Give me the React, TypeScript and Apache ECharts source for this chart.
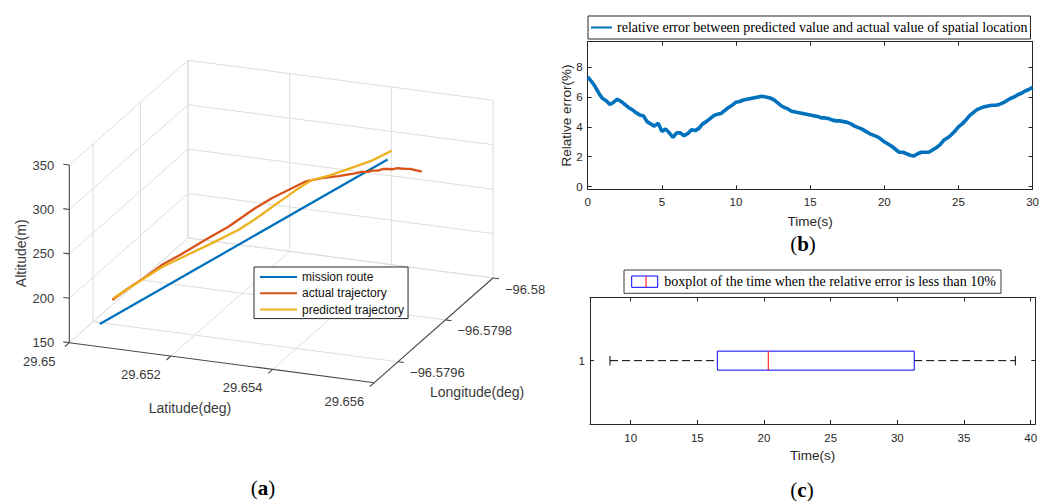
import React, { useEffect, useRef } from "react";
import * as echarts from "echarts";

const SANS = "'Liberation Sans', Arial, Helvetica, sans-serif";
const SERIF = "'Liberation Serif', 'Times New Roman', serif";
const AX = "#262626";

// ---------------- (a) 3-D trajectory data ----------------
const latTicks = [29.65, 29.652, 29.654, 29.656];
const lonTicks = [-96.58, -96.5798, -96.5796];
const altTicks = [150, 200, 250, 300, 350];
const latRange = [29.65, 29.656];
const lonRange = [-96.58, -96.5795];
const altRange = [150, 350];

const trajNames = ["mission route", "actual trajectory", "predicted trajectory"];
const trajColors = ["#0072BD", "#D95319", "#EDB120"];

const routeLat = [29.6506, 29.655];
const routeLon = [-96.5795, -96.57977];
const routeAlt = [175.5, 330];

const actualLat = [29.65079, 29.651036, 29.65129, 29.651546, 29.651852, 29.652208, 29.652564, 29.652972, 29.653227, 29.653481, 29.653736, 29.653991, 29.654245, 29.6545, 29.6546, 29.6547, 29.654756, 29.65485, 29.65493, 29.655009, 29.65508, 29.65515, 29.655264, 29.65534, 29.65542, 29.65552];
const actualLon = [-96.579512, -96.579527, -96.579542, -96.579558, -96.579577, -96.579599, -96.579621, -96.579646, -96.579662, -96.579677, -96.579693, -96.579709, -96.579724, -96.57974, -96.579746, -96.579752, -96.579756, -96.579762, -96.579767, -96.579771, -96.579776, -96.57978, -96.579787, -96.579792, -96.579797, -96.579803];
const actualAlt = [201.2, 212.7, 223.3, 235.3, 245.6, 258.9, 271.3, 289.2, 298.7, 306.2, 313.8, 315.8, 316.6, 317.9, 318.9, 318.1, 319.0, 318.4, 319.6, 319.2, 318.3, 319.0, 317.4, 316.8, 314.9, 312.6];

const predLat = [29.650806, 29.65124, 29.651546, 29.651902, 29.65231, 29.652717, 29.652972, 29.653278, 29.653583, 29.653838, 29.654092, 29.6545, 29.654756, 29.655061];
const predLon = [-96.579513, -96.579539, -96.579558, -96.57958, -96.579605, -96.57963, -96.579646, -96.579665, -96.579683, -96.579699, -96.579715, -96.57974, -96.579756, -96.579774];
const predAlt = [203.0, 220.6, 232.8, 243.0, 254.4, 266.5, 276.8, 290.8, 304.7, 315.0, 317.7, 325.3, 330.3, 339.4];

// ---------------- (b) relative error data ----------------
const errName = "relative error between predicted value and actual value of spatial location";
const errStep = 0.25; // s
const errValues = [
  7.35, 7.05, 6.7, 6.25, 5.9, 5.75, 5.5, 5.65, 5.85, 5.7,
  5.5, 5.3, 5.15, 4.95, 4.8, 4.75, 4.35, 4.2, 4.05, 4.25,
  3.7, 3.85, 3.6, 3.3, 3.6, 3.6, 3.4, 3.55, 3.8, 3.75,
  3.9, 4.2, 4.35, 4.55, 4.75, 4.85, 4.9, 5.1, 5.3, 5.45,
  5.65, 5.7, 5.8, 5.85, 5.9, 5.95, 6.0, 6.05, 6.0, 5.95,
  5.85, 5.65, 5.45, 5.3, 5.2, 5.05, 5.0, 4.95, 4.9, 4.85,
  4.8, 4.75, 4.7, 4.6, 4.6, 4.55, 4.45, 4.4, 4.4, 4.35,
  4.3, 4.2, 4.05, 3.95, 3.85, 3.7, 3.55, 3.45, 3.35, 3.2,
  3.0, 2.85, 2.7, 2.5, 2.3, 2.3, 2.2, 2.1, 2.05, 2.2,
  2.3, 2.3, 2.3, 2.45, 2.6, 2.8, 3.1, 3.25, 3.45, 3.7,
  4.0, 4.2, 4.45, 4.75, 4.95, 5.15, 5.25, 5.35, 5.4, 5.45,
  5.45, 5.5, 5.6, 5.75, 5.9, 6.0, 6.15, 6.25, 6.4, 6.5, 6.65,
];
const errXTicks = [0, 5, 10, 15, 20, 25, 30];
const errYTicks = [0, 2, 4, 6, 8];

// ---------------- (c) boxplot data ----------------
const boxLegend = "boxplot of the time when the relative error is less than 10%";
const boxCategory = 1;
const boxStats = [8.45, 16.5, 20.32, 31.27, 38.85]; // min, q1, median, q3, max
const boxXTicks = [10, 15, 20, 25, 30, 35, 40];

// ---------------- 3-D projection (layout) ----------------
const O = [69.3, 342.7];
const LAT_V = [305, 40];
const LON_V = [118.7, -104.7];
const ALT_V = [0, -177.7];

function project(lat: number, lon: number, alt: number): number[] {
  const u = (lat - latRange[0]) / (latRange[1] - latRange[0]);
  const g = (lonRange[1] - lon) / (lonRange[1] - lonRange[0]);
  const h = (alt - altRange[0]) / (altRange[1] - altRange[0]);
  return [
    O[0] + u * LAT_V[0] + g * LON_V[0] + h * ALT_V[0],
    O[1] + u * LAT_V[1] + g * LON_V[1] + h * ALT_V[1],
  ];
}

function traj(lat: number[], lon: number[], alt: number[]) {
  return lat.map((v, i) => project(v, lon[i], alt[i]));
}

function fmtLon(v: number) {
  return "\u2212" + String(Math.abs(v));
}

function buildOption() {
  const [la0, la1] = latRange;
  const [lo0, lo1] = lonRange;
  const [a0, a1] = altRange;

  const grid3d: number[][] = [];
  const pushSeg = (p: number[], q: number[]) => grid3d.push([p[0], p[1], q[0], q[1]]);
  latTicks.forEach((lat) => pushSeg(project(lat, lo1, a0), project(lat, lo0, a0)));
  lonTicks.forEach((lon) => pushSeg(project(la0, lon, a0), project(la1, lon, a0)));
  latTicks.forEach((lat) => pushSeg(project(lat, lo0, a0), project(lat, lo0, a1)));
  altTicks.forEach((alt) => pushSeg(project(la0, lo0, alt), project(la1, lo0, alt)));
  lonTicks.forEach((lon) => pushSeg(project(la0, lon, a0), project(la0, lon, a1)));
  altTicks.forEach((alt) => pushSeg(project(la0, lo1, alt), project(la0, lo0, alt)));

  const axes3d: number[][] = [];
  const pushAx = (p: number[], q: number[]) => axes3d.push([p[0], p[1], q[0], q[1]]);
  pushAx(project(la0, lo1, a0), project(la0, lo1, a1));
  pushAx(project(la0, lo1, a0), project(la1, lo1, a0));
  pushAx(project(la1, lo1, a0), project(la1, lo0, a0));

  const ticks3d: number[][] = [];
  altTicks.forEach((alt) => { const p = project(la0, lo1, alt); ticks3d.push([p[0], p[1], -6, -0.8]); });
  latTicks.forEach((lat) => { const p = project(lat, lo1, a0); ticks3d.push([p[0], p[1], -4.5, 4]); });
  lonTicks.forEach((lon) => { const p = project(la1, lon, a0); ticks3d.push([p[0], p[1], 6, 0.8]); });

  type Lbl = { p: number[]; dx: number; dy: number; text: string; align: string };
  const labels: Lbl[] = [];
  altTicks.forEach((alt) => labels.push({ p: project(la0, lo1, alt), dx: -15, dy: 0, text: String(alt), align: "right" }));
  latTicks.forEach((lat) => labels.push({ p: project(lat, lo1, a0), dx: -30, dy: 18.5, text: String(lat), align: "center" }));
  lonTicks.forEach((lon) => labels.push({ p: project(la1, lon, a0), dx: 12, dy: 11, text: fmtLon(lon), align: "left" }));

  const segSeries = (data: number[][], color: string, width: number) => ({
    type: "custom",
    xAxisIndex: 0,
    yAxisIndex: 0,
    silent: true,
    data,
    encode: { x: [0, 2], y: [1, 3] },
    renderItem: (_p: any, api: any) => {
      const p1 = api.coord([api.value(0), api.value(1)]);
      const p2 = api.coord([api.value(2), api.value(3)]);
      return {
        type: "line",
        shape: { x1: p1[0], y1: p1[1], x2: p2[0], y2: p2[1] },
        style: { stroke: color, lineWidth: width },
      };
    },
  });

  const trajData = [
    traj(routeLat, routeLon, routeAlt),
    traj(actualLat, actualLon, actualAlt),
    traj(predLat, predLon, predAlt),
  ];

  const errData = errValues.map((v, i) => [i * errStep, v]);

  const mkAxis = (o: any) => ({
    type: "value",
    splitLine: { show: false },
    axisLine: { show: true, onZero: false, lineStyle: { color: AX, width: 1 } },
    nameMoveOverlap: false,
    ...o,
  });

  return {
    animation: false,
    backgroundColor: "#fff",
    grid: [
      { left: 0, top: 0, width: 1042, height: 501 },
      { left: 587.7, top: 41.7, width: 449, height: 147.6 },
      { left: 590, top: 297.3, width: 445.3, height: 126.7 },
    ],
    xAxis: [
      { type: "value", gridIndex: 0, min: 0, max: 1042, show: false },
      mkAxis({
        gridIndex: 1, min: 0, max: 30, interval: 5, position: "bottom",
        axisTick: { show: true, inside: true, length: 4, lineStyle: { color: AX }, customValues: errXTicks },
        axisLabel: { show: true, customValues: errXTicks, fontFamily: SANS, fontSize: 11.5, color: AX, margin: 7 },
        name: "Time(s)", nameLocation: "middle", nameGap: 25,
        nameTextStyle: { fontFamily: SANS, fontSize: 13.5, color: AX },
      }),
      mkAxis({
        gridIndex: 1, min: 0, max: 30, interval: 5, position: "top",
        axisTick: { show: true, inside: true, length: 4, lineStyle: { color: AX }, customValues: errXTicks },
        axisLabel: { show: false },
      }),
      mkAxis({
        gridIndex: 2, min: 6.95, max: 40.35, position: "bottom",
        axisTick: { show: true, inside: true, length: 4, lineStyle: { color: AX }, customValues: boxXTicks },
        axisLabel: { show: true, customValues: boxXTicks, fontFamily: SANS, fontSize: 11.5, color: AX, margin: 8 },
        name: "Time(s)", nameLocation: "middle", nameGap: 24,
        nameTextStyle: { fontFamily: SANS, fontSize: 13.5, color: AX },
      }),
      mkAxis({
        gridIndex: 2, min: 6.95, max: 40.35, position: "top",
        axisTick: { show: true, inside: true, length: 4, lineStyle: { color: AX }, customValues: boxXTicks },
        axisLabel: { show: false },
      }),
    ],
    yAxis: [
      { type: "value", gridIndex: 0, min: 0, max: 501, inverse: true, show: false },
      mkAxis({
        gridIndex: 1, min: -0.18, max: 9.7, position: "left",
        axisTick: { show: true, inside: true, length: 4, lineStyle: { color: AX }, customValues: errYTicks },
        axisLabel: { show: true, customValues: errYTicks, fontFamily: SANS, fontSize: 11.5, color: AX, margin: 5 },
        name: "Relative error(%)", nameLocation: "middle", nameGap: 14,
        nameTextStyle: { fontFamily: SANS, fontSize: 13.5, color: AX },
      }),
      mkAxis({
        gridIndex: 1, min: -0.18, max: 9.7, position: "right",
        axisTick: { show: true, inside: true, length: 4, lineStyle: { color: AX }, customValues: errYTicks },
        axisLabel: { show: false },
      }),
      mkAxis({
        gridIndex: 2, min: 0.5, max: 1.5, position: "left",
        axisTick: { show: true, inside: true, length: 4, lineStyle: { color: AX }, customValues: [boxCategory] },
        axisLabel: { show: true, customValues: [boxCategory], fontFamily: SANS, fontSize: 11.5, color: AX, margin: 5 },
      }),
      mkAxis({
        gridIndex: 2, min: 0.5, max: 1.5, position: "right",
        axisTick: { show: true, inside: true, length: 4, lineStyle: { color: AX }, customValues: [boxCategory] },
        axisLabel: { show: false },
      }),
    ],
    legend: [
      {
        data: trajNames,
        orient: "vertical",
        left: 254, top: 267,
        padding: [4, 4, 3, 5],
        itemWidth: 37, itemHeight: 12, itemGap: 4.3,
        itemStyle: { opacity: 0 },
        borderColor: AX, borderWidth: 1, backgroundColor: "#fff",
        textStyle: { fontFamily: SANS, fontSize: 12, color: "#111" },
        selectedMode: false,
      },
      {
        data: [errName],
        left: 588, top: 16,
        padding: [4.5, 3, 4.5, 2],
        itemWidth: 21, itemHeight: 14,
        itemStyle: { opacity: 0 },
        borderColor: AX, borderWidth: 1, backgroundColor: "#fff",
        textStyle: { fontFamily: SERIF, fontSize: 14, color: "#000" },
        selectedMode: false,
      },
    ],
    series: [
      segSeries(grid3d, "#dedede", 1),
      segSeries(axes3d, "#4a4a4a", 1.1),
      {
        type: "custom", xAxisIndex: 0, yAxisIndex: 0, silent: true,
        data: ticks3d,
        encode: { x: 0, y: 1 },
        renderItem: (_p: any, api: any) => {
          const p = api.coord([api.value(0), api.value(1)]);
          return {
            type: "line",
            shape: { x1: p[0], y1: p[1], x2: p[0] + api.value(2), y2: p[1] + api.value(3) },
            style: { stroke: "#4a4a4a", lineWidth: 1.1 },
          };
        },
      },
      {
        type: "custom", xAxisIndex: 0, yAxisIndex: 0, silent: true,
        data: labels.map((l) => [l.p[0], l.p[1]]),
        encode: { x: 0, y: 1 },
        renderItem: (params: any, api: any) => {
          const it = labels[params.dataIndex];
          const p = api.coord([api.value(0), api.value(1)]);
          return {
            type: "text",
            x: p[0] + it.dx, y: p[1] + it.dy,
            style: { text: it.text, fontFamily: SANS, fontSize: 13, fill: "#3a3a3a", align: it.align, verticalAlign: "middle" },
          };
        },
      },
      ...trajNames.map((name, i) => ({
        type: "line", name, xAxisIndex: 0, yAxisIndex: 0,
        data: trajData[i], symbol: "none", silent: true,
        color: trajColors[i],
        lineStyle: { color: trajColors[i], width: 2.3 },
        itemStyle: { color: trajColors[i] },
      })),
      {
        type: "line", name: errName, xAxisIndex: 1, yAxisIndex: 1,
        data: errData, symbol: "none", silent: true,
        color: "#0072BD",
        lineStyle: { color: "#0072BD", width: 3.6 },
        itemStyle: { color: "#0072BD" },
      },
      {
        type: "custom", xAxisIndex: 3, yAxisIndex: 3, silent: true,
        data: [[boxCategory, ...boxStats]],
        encode: { y: 0, x: [1, 2, 3, 4, 5] },
        renderItem: (_p: any, api: any) => {
          const yv = api.value(0);
          const xs = [1, 2, 3, 4, 5].map((i) => api.coord([api.value(i), yv])[0]);
          const cy = api.coord([api.value(1), yv])[1];
          const hb = api.size([0, 0.15])[1] / 2;
          const hc = api.size([0, 0.075])[1] / 2;
          return {
            type: "group",
            children: [
              { type: "line", shape: { x1: xs[0], y1: cy, x2: xs[1], y2: cy }, style: { stroke: "#000", lineWidth: 1, lineDash: [8, 4] } },
              { type: "line", shape: { x1: xs[3], y1: cy, x2: xs[4], y2: cy }, style: { stroke: "#000", lineWidth: 1, lineDash: [8, 4] } },
              { type: "line", shape: { x1: xs[0], y1: cy - hc, x2: xs[0], y2: cy + hc }, style: { stroke: "#000", lineWidth: 1 } },
              { type: "line", shape: { x1: xs[4], y1: cy - hc, x2: xs[4], y2: cy + hc }, style: { stroke: "#000", lineWidth: 1 } },
              { type: "rect", shape: { x: xs[1], y: cy - hb, width: xs[3] - xs[1], height: 2 * hb }, style: { fill: "none", stroke: "#0000ff", lineWidth: 1 } },
              { type: "line", shape: { x1: xs[2], y1: cy - hb, x2: xs[2], y2: cy + hb }, style: { stroke: "#ff0000", lineWidth: 1 } },
            ],
          };
        },
      },
    ],
    graphic: [
      { type: "text", x: 20.7, y: 253.3, rotation: Math.PI / 2, style: { text: "Altitude(m)", fontFamily: SANS, fontSize: 14, fill: "#3a3a3a", align: "center", verticalAlign: "middle" } },
      { type: "text", x: 190, y: 408.3, style: { text: "Latitude(deg)", fontFamily: SANS, fontSize: 14, fill: "#3a3a3a", align: "center", verticalAlign: "middle" } },
      { type: "text", x: 430, y: 392.3, style: { text: "Longitude(deg)", fontFamily: SANS, fontSize: 14, fill: "#3a3a3a", align: "left", verticalAlign: "middle" } },
      { type: "rect", shape: { x: 624, y: 270, width: 377, height: 23.3 }, style: { fill: "#fff", stroke: "#3c3c3c", lineWidth: 1 } },
      { type: "rect", shape: { x: 631.7, y: 276, width: 26, height: 11.3 }, style: { fill: "none", stroke: "#0000ff", lineWidth: 1 } },
      { type: "line", shape: { x1: 646, y1: 276, x2: 646, y2: 287.3 }, style: { stroke: "#ff0000", lineWidth: 1 } },
      { type: "text", x: 664.3, y: 281.7, style: { text: boxLegend, fontFamily: SERIF, fontSize: 14, fill: "#000", align: "left", verticalAlign: "middle" } },
      ...[["a", 263, 488], ["b", 803, 244], ["c", 802, 490]].map(([l, x, y]) => ({
        type: "text", x, y,
        style: {
          text: "{p|(}{l|" + l + "}{p|)}",
          align: "center", verticalAlign: "middle",
          rich: {
            p: { fontFamily: SERIF, fontSize: 21, fill: "#000" },
            l: { fontFamily: SERIF, fontSize: 21, fontWeight: "bold", fill: "#000" },
          },
        },
      })),
    ],
  };
}

export default function App() {
  const ref = useRef<HTMLDivElement>(null);
  useEffect(() => {
    const chart = echarts.init(ref.current!, null, { renderer: "svg" });
    chart.setOption(buildOption() as any);
    return () => chart.dispose();
  }, []);
  return (
    <div
      ref={ref}
      style={{ position: "fixed", left: 0, top: 0, width: 1042, height: 501, background: "#fff" }}
    />
  );
}
